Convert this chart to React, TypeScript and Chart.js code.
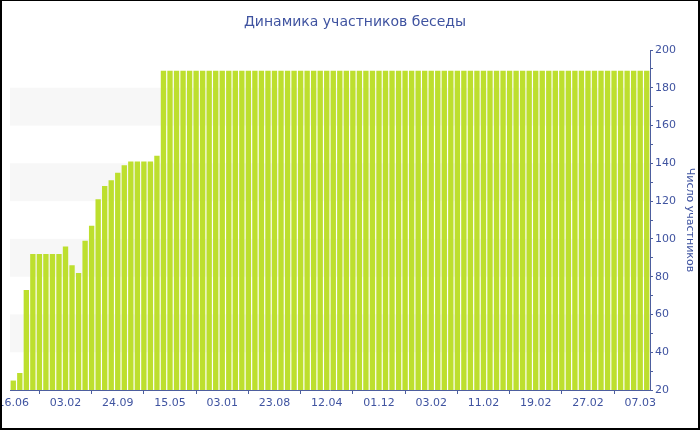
import React, { useEffect, useRef } from "react";
import { Chart, registerables } from "chart.js";

Chart.register(...registerables);

const TITLE = "Динамика участников беседы";
const Y_TITLE = "Число участников";

// dates shown under every 8th bar
const tickDates = ["16.06", "03.02", "24.09", "15.05", "03.01", "23.08", "12.04", "01.12", "03.02", "11.02", "19.02", "27.02", "07.03"];
const TICK_EVERY = 8;

// number of chat members per bar
const members = [
  25, 29, 73, 92, 92, 92, 92, 92, 96, 86, 82, 99, 107, 121, 128, 131, 135, 139, 141, 141, 141, 141, 144,
  189, 189, 189, 189, 189, 189, 189, 189, 189, 189, 189, 189, 189, 189, 189,
  189, 189, 189, 189, 189, 189, 189, 189, 189, 189, 189, 189, 189, 189, 189,
  189, 189, 189, 189, 189, 189, 189, 189, 189, 189, 189, 189, 189, 189, 189,
  189, 189, 189, 189, 189, 189, 189, 189, 189, 189, 189, 189, 189, 189, 189,
  189, 189, 189, 189, 189, 189, 189, 189, 189, 189, 189, 189, 189, 189, 189,
];

const yMin = 20;
const yMax = 200;
const bands = [
  [40, 60],
  [80, 100],
  [120, 140],
  [160, 180],
];

const BLUE = "#3f53a0";
const AXIS = "#4d5e9e";
const BAR = "#bddf2e";
const FONT = "'DejaVu Sans', Verdana, sans-serif";

const categories = members.map((_, i) =>
  i % TICK_EVERY === 0 ? tickDates[i / TICK_EVERY] ?? "" : ""
);

const bandPlugin = {
  id: "bands",
  beforeDatasetsDraw(chart: any) {
    const { ctx, chartArea, scales } = chart;
    const y = scales.y;
    ctx.save();
    ctx.fillStyle = "#f7f7f7";
    for (const [lo, hi] of bands) {
      const top = y.getPixelForValue(hi);
      const bot = y.getPixelForValue(lo);
      ctx.fillRect(chartArea.left, top, chartArea.right - chartArea.left, bot - top);
    }
    ctx.restore();
  },
};

export default function App() {
  const ref = useRef<HTMLCanvasElement | null>(null);

  useEffect(() => {
    if (!ref.current) return;
    const chart = new Chart(ref.current, {
      type: "bar",
      data: {
        labels: categories,
        datasets: [
          {
            data: members,
            backgroundColor: BAR,
            borderWidth: 0,
            barPercentage: 0.82,
            categoryPercentage: 1,
          },
        ],
      },
      plugins: [bandPlugin],
      options: {
        responsive: false,
        animation: false,
        layout: { padding: { left: 10, right: 0, top: 0, bottom: 0 } },
        plugins: {
          legend: { display: false },
          tooltip: { enabled: false },
          title: {
            display: true,
            text: TITLE,
            color: BLUE,
            font: { family: FONT, size: 14, weight: "normal" },
            padding: { top: 14, bottom: 19.2 },
          },
        },
        scales: {
          x: {
            type: "category",
            grid: {
              display: true,
              drawOnChartArea: false,
              drawTicks: true,
              tickLength: 4,
              color: AXIS,
            },
            border: { display: true, color: AXIS, width: 1 },
            ticks: {
              autoSkip: false,
              maxRotation: 0,
              minRotation: 0,
              padding: 3,
              color: BLUE,
              font: { family: FONT, size: 11 },
              callback: (_v: any, i: number) => (categories[i] ? categories[i] : null),
            },
            afterFit: (s: any) => {
              s.height = 40;
              s.paddingLeft = 0;
              s.paddingRight = 0;
            },
          },
          y: {
            position: "right",
            min: yMin,
            max: yMax,
            grid: {
              display: true,
              drawOnChartArea: false,
              drawTicks: true,
              tickLength: 3,
              color: AXIS,
            },
            border: { display: true, color: AXIS, width: 1 },
            ticks: {
              stepSize: 10,
              padding: 2,
              color: BLUE,
              font: { family: FONT, size: 11 },
              callback: (v: any) => (Number(v) % 20 === 0 ? String(v) : ""),
            },
            title: {
              display: true,
              text: Y_TITLE,
              color: BLUE,
              font: { family: FONT, size: 11 },
              padding: { top: 4, bottom: 4 },
            },
            afterFit: (s: any) => {
              s.width = 50;
              s.paddingTop = 0;
              s.paddingBottom = 0;
            },
          },
        },
      } as any,
    });
    return () => chart.destroy();
  }, []);

  return (
    <div style={{ position: "absolute", left: 0, top: 0, width: 700, height: 430, background: "#fff" }}>
      <canvas ref={ref} width={700} height={430} style={{ display: "block" }} />
      <div
        style={{
          position: "absolute",
          left: 0,
          top: 0,
          width: 700,
          height: 430,
          boxSizing: "border-box",
          borderTop: "1px solid #000",
          borderLeft: "2px solid #000",
          borderRight: "2px solid #000",
          borderBottom: "2px solid #000",
          pointerEvents: "none",
        }}
      />
    </div>
  );
}
